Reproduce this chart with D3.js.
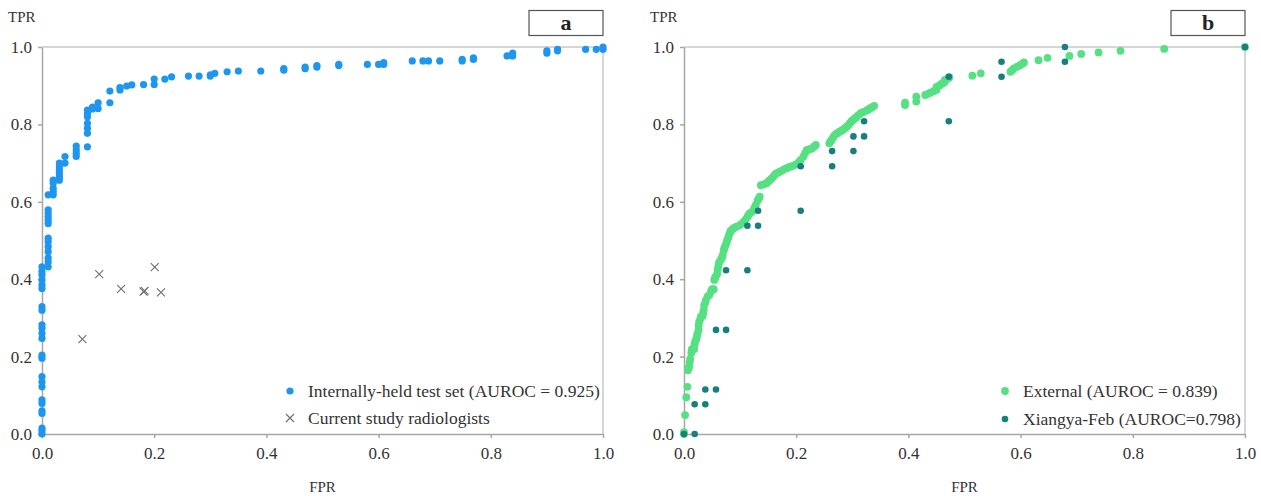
<!DOCTYPE html>
<html>
<head>
<meta charset="utf-8">
<script src="https://cdn.jsdelivr.net/npm/d3@7"></script>
<style>
  body { margin: 0; background: #fff; }
  svg, svg text { font-family: "Liberation Serif", "Times New Roman", serif; }
</style>
</head>
<body>
<div id="chart"></div>
<script>
// ---- data ----
const tickValues = [0, 0.2, 0.4, 0.6, 0.8, 1.0];

// panel a : internally-held test set, [FPR, TPR]
const internalSet = [
  [0,0],[0,0.008],[0,0.015],[0,0.053],[0,0.06],[0,0.079],[0,0.088],[0,0.122],[0,0.135],[0,0.148],
  [0,0.196],[0,0.204],[0,0.247],[0,0.26],[0,0.273],[0,0.282],[0,0.32],[0,0.329],[0,0.376],[0,0.385],
  [0,0.398],[0,0.411],[0,0.42],[0,0.432],
  [0.011,0.432],[0.011,0.445],[0.011,0.455],[0.011,0.471],[0.011,0.484],[0.011,0.497],[0.011,0.506],
  [0.011,0.544],[0.011,0.553],[0.011,0.561],[0.011,0.57],[0.011,0.579],[0.011,0.618],
  [0.02,0.618],[0.02,0.626],[0.02,0.635],[0.02,0.648],[0.02,0.656],
  [0.031,0.656],[0.031,0.665],[0.031,0.674],[0.031,0.682],[0.031,0.691],[0.031,0.7],
  [0.041,0.7],[0.041,0.717],
  [0.061,0.717],[0.061,0.725],[0.061,0.734],[0.061,0.744],
  [0.081,0.742],[0.081,0.777],[0.081,0.79],[0.081,0.803],[0.081,0.82],[0.081,0.829],[0.081,0.837],
  [0.09,0.84],[0.09,0.845],[0.1,0.841],[0.1,0.856],[0.121,0.856],[0.121,0.886],
  [0.139,0.889],[0.139,0.895],[0.151,0.899],[0.16,0.902],[0.181,0.903],[0.2,0.903],[0.2,0.917],
  [0.219,0.917],[0.231,0.923],[0.261,0.925],[0.28,0.925],[0.3,0.925],[0.3,0.928],[0.308,0.932],
  [0.33,0.936],[0.35,0.938],[0.39,0.938],[0.431,0.94],[0.431,0.944],[0.469,0.944],[0.469,0.948],
  [0.49,0.948],[0.49,0.952],[0.529,0.952],[0.529,0.955],[0.58,0.955],[0.6,0.955],[0.609,0.955],
  [0.609,0.96],[0.66,0.964],[0.679,0.964],[0.689,0.964],[0.709,0.964],[0.749,0.964],[0.749,0.968],
  [0.769,0.968],[0.769,0.972],[0.829,0.977],[0.839,0.977],[0.839,0.984],[0.9,0.984],[0.9,0.99],
  [0.919,0.99],[0.919,0.994],[0.969,0.994],[0.988,0.994],[1,0.994],[1,1]
];

// panel a : current study radiologists
const radiologists = [
  [0.072,0.245],[0.102,0.413],[0.141,0.375],[0.181,0.368],[0.183,0.37],[0.201,0.431],[0.212,0.366]
];

// panel b : external set
const externalSet = [
  [0,0],[0,0.005],[0.002,0.049],[0.004,0.095],[0.006,0.122],[0.007,0.165],[0.008,0.17],[0.009,0.174],
  [0.01,0.185],[0.011,0.194],[0.013,0.21],[0.014,0.219],[0.018,0.219],[0.019,0.232],[0.02,0.24],
  [0.022,0.245],[0.023,0.252],[0.024,0.26],[0.026,0.269],[0.026,0.28],[0.027,0.29],[0.029,0.297],
  [0.03,0.303],[0.033,0.305],[0.034,0.312],[0.035,0.32],[0.036,0.333],[0.038,0.34],[0.039,0.346],
  [0.042,0.355],[0.045,0.359],[0.048,0.368],[0.05,0.374],[0.053,0.374],[0.054,0.398],[0.055,0.402],
  [0.056,0.406],[0.059,0.413],[0.06,0.423],[0.061,0.432],[0.062,0.44],[0.063,0.445],[0.066,0.451],
  [0.068,0.457],[0.069,0.463],[0.071,0.475],[0.072,0.481],[0.074,0.488],[0.076,0.495],[0.077,0.501],
  [0.079,0.508],[0.08,0.514],[0.082,0.52],[0.083,0.525],[0.086,0.529],[0.088,0.531],[0.091,0.534],
  [0.094,0.536],[0.1,0.54],[0.105,0.546],[0.109,0.553],[0.113,0.561],[0.115,0.566],[0.117,0.57],
  [0.121,0.574],[0.125,0.583],[0.127,0.588],[0.128,0.592],[0.131,0.603],[0.133,0.608],[0.135,0.613],
  [0.137,0.643],[0.142,0.645],[0.147,0.648],[0.15,0.652],[0.153,0.656],[0.156,0.66],[0.159,0.665],
  [0.162,0.67],[0.165,0.674],[0.17,0.677],[0.174,0.68],[0.178,0.684],[0.183,0.687],[0.188,0.69],
  [0.192,0.692],[0.197,0.695],[0.201,0.698],[0.205,0.703],[0.208,0.708],[0.213,0.717],[0.216,0.726],
  [0.219,0.734],[0.224,0.736],[0.228,0.738],[0.232,0.743],[0.235,0.747],[0.259,0.751],[0.261,0.756],
  [0.263,0.76],[0.266,0.767],[0.269,0.773],[0.272,0.776],[0.275,0.779],[0.278,0.782],[0.281,0.784],
  [0.284,0.787],[0.287,0.79],[0.29,0.794],[0.293,0.798],[0.296,0.804],[0.299,0.809],[0.302,0.812],
  [0.305,0.816],[0.308,0.82],[0.311,0.824],[0.315,0.829],[0.32,0.832],[0.326,0.836],[0.329,0.839],
  [0.332,0.842],[0.336,0.845],[0.339,0.848],[0.394,0.85],[0.394,0.856],[0.414,0.859],[0.414,0.872],
  [0.43,0.876],[0.435,0.879],[0.439,0.882],[0.445,0.886],[0.45,0.889],[0.45,0.897],[0.455,0.9],
  [0.458,0.904],[0.462,0.907],[0.465,0.91],[0.465,0.915],[0.471,0.919],[0.473,0.922],[0.514,0.926],
  [0.529,0.932],[0.582,0.936],[0.585,0.94],[0.588,0.945],[0.594,0.949],[0.599,0.953],[0.603,0.957],
  [0.606,0.96],[0.632,0.966],[0.648,0.972],[0.687,0.977],[0.708,0.982],[0.739,0.986],[0.778,0.99],
  [0.856,0.995],[1,1]
];

// panel b : Xiangya-Feb
const xiangyaFeb = [
  [0,0],[0.019,0],[0.019,0.077],[0.038,0.077],[0.038,0.115],[0.057,0.115],[0.057,0.269],[0.075,0.269],
  [0.075,0.423],[0.113,0.423],[0.113,0.538],[0.132,0.538],[0.132,0.577],[0.208,0.577],[0.208,0.692],
  [0.264,0.692],[0.264,0.731],[0.302,0.731],[0.302,0.769],[0.321,0.769],[0.321,0.808],[0.472,0.808],
  [0.472,0.923],[0.566,0.923],[0.566,0.962],[0.679,0.962],[0.679,1],[1,1]
];

const panelLabels = ["a", "b"];
const legendA = ["Internally-held test set (AUROC = 0.925)", "Current study radiologists"];
const legendB = ["External (AUROC = 0.839)", "Xiangya-Feb (AUROC=0.798)"];

// ---- drawing ----
const W = 1261, H = 496;
const svg = d3.select("#chart").append("svg").attr("width", W).attr("height", H);

const y = d3.scaleLinear().domain([0, 1]).range([434, 47]);

function drawPanel(x0, x1, label, legendX, legendRows, series) {
  const x = d3.scaleLinear().domain([0, 1]).range([x0, x1]);
  const g = svg.append("g");

  // frame top / right
  g.append("line").attr("x1", x0).attr("x2", x1).attr("y1", y(1)).attr("y2", y(1))
    .attr("stroke", "#c8c8c8").attr("stroke-width", 1.5);
  g.append("line").attr("x1", x1).attr("x2", x1).attr("y1", y(1)).attr("y2", y(0))
    .attr("stroke", "#c8c8c8").attr("stroke-width", 1.5);

  const yAxis = g.append("g").attr("transform", `translate(${x0},0)`)
    .call(d3.axisLeft(y).tickValues(tickValues).tickFormat(d3.format(".1f")).tickSize(4).tickSizeOuter(0).tickPadding(6));
  const xAxis = g.append("g").attr("transform", `translate(0,${y(0)})`)
    .call(d3.axisBottom(x).tickValues(tickValues).tickFormat(d3.format(".1f")).tickSize(4).tickSizeOuter(0).tickPadding(9));
  [yAxis, xAxis].forEach(a => {
    a.attr("font-family", null).attr("font-size", null);
    a.selectAll(".domain, line").attr("stroke", "#a6a6a6").attr("stroke-width", 1.5);
    a.selectAll("text").attr("fill", "#333").style("font-size", "17px");
  });

  g.append("text").attr("x", x0 - 34).attr("y", 22).attr("fill", "#333")
    .style("font-size", "15px").text("TPR");
  g.append("text").attr("x", (x0 + x1) / 2).attr("y", 492).attr("text-anchor", "middle")
    .attr("fill", "#333").style("font-size", "15px").text("FPR");

  // label box
  g.append("rect").attr("x", x1 - 74).attr("y", 10.5).attr("width", 74).attr("height", 25)
    .attr("fill", "#fff").attr("stroke", "#555").attr("stroke-width", 1.2);
  g.append("text").attr("x", x1 - 37).attr("y", 30).attr("text-anchor", "middle")
    .style("font-size", "22px").style("font-weight", "bold").attr("fill", "#222").text(label);

  series.forEach(s => {
    if (s.marker === "x") {
      const m = g.append("g").selectAll("g").data(s.data).join("g")
        .attr("transform", d => `translate(${x(d[0])},${y(d[1])})`);
      m.append("path").attr("d", "M-4,-4L4,4M-4,4L4,-4")
        .attr("stroke", s.color).attr("stroke-width", 1.1).attr("fill", "none");
    } else {
      g.append("g").selectAll("circle").data(s.data).join("circle")
        .attr("cx", d => x(d[0])).attr("cy", d => y(d[1])).attr("r", s.r)
        .attr("fill", s.color);
    }
  });

  // legend
  legendRows.forEach((row, i) => {
    const ly = 391 + i * (row.gap || 27);
    const s = series[i];
    if (s.marker === "x") {
      g.append("path").attr("transform", `translate(${legendX},${ly})`)
        .attr("d", "M-4,-4L4,4M-4,4L4,-4").attr("stroke", s.color).attr("stroke-width", 1.1);
    } else {
      g.append("circle").attr("cx", legendX).attr("cy", ly).attr("r", s.r).attr("fill", s.color);
    }
    g.append("text").attr("x", legendX + 18).attr("y", ly).attr("dy", "0.35em")
      .attr("fill", "#333").style("font-size", "17.5px").text(row.text);
  });
}

drawPanel(42, 603, panelLabels[0], 290,
  [{ text: legendA[0] }, { text: legendA[1] }],
  [{ data: internalSet, color: "#1e96f0", r: 3.6 },
   { data: radiologists, color: "#6e6e6e", marker: "x" }]);

drawPanel(684, 1245, panelLabels[1], 1005,
  [{ text: legendB[0] }, { text: legendB[1], gap: 28 }],
  [{ data: externalSet, color: "#55e082", r: 3.9 },
   { data: xiangyaFeb, color: "#17807e", r: 3.3 }]);
</script>
</body>
</html>
